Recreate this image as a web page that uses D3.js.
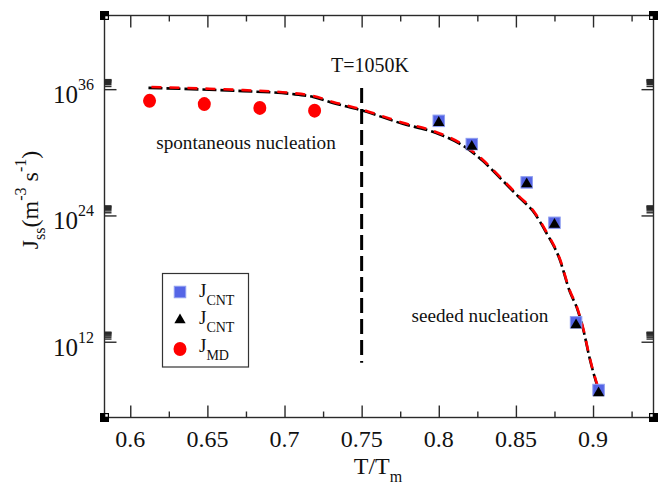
<!DOCTYPE html>
<html>
<head>
<meta charset="utf-8">
<script src="https://cdn.jsdelivr.net/npm/d3@7"></script>
<style>
  html, body { margin: 0; padding: 0; background: #fff; }
  svg { display: block; }
  text { font-family: "Liberation Serif", "DejaVu Serif", serif; fill: #111; }
</style>
</head>
<body>
<svg id="chart" width="670" height="486"></svg>
<script>
// Reduced temperature T/Tm and log10 of the steady-state nucleation rate J_ss (m^-3 s^-1)

// CNT prediction curves (two overlapping model curves)
const curveT = [0.6118, 0.6453, 0.6733, 0.7036, 0.7186, 0.7314, 0.7495, 0.7767, 0.7961, 0.8179, 0.8287,
                0.8395, 0.8524, 0.8610, 0.8697, 0.8783, 0.8848, 0.8898, 0.8939, 0.8977, 0.9031, 0.9042];
const curveLogJ = [36.22, 36.07, 35.91, 35.65, 35.36, 34.79, 34.10, 32.80, 32.04, 30.52, 29.26,
                   27.69, 25.77, 24.51, 22.45, 19.95, 16.91, 15.20, 13.11, 10.58, 7.73, 7.22];

// J_CNT points (squares and triangles) for seeded nucleation
const cntT = [0.8, 0.8214, 0.857, 0.875, 0.889, 0.9036];
const cntSquareLogJ = [32.99, 30.78, 27.14, 23.30, 13.84, 7.41];
const cntTriangleLogJ = [32.82, 30.54, 26.98, 23.14, 13.58, 7.12];

// J_MD points for spontaneous nucleation
const mdT = [0.6125, 0.648, 0.684, 0.7195];
const mdLogJ = [34.89, 34.58, 34.22, 33.96];

// Axis settings
const xDomain = [0.5833, 0.9392];
const yDomain = [6.3e4, 1e43];
const xMajorTicks = [0.6, 0.65, 0.7, 0.75, 0.8, 0.85, 0.9];
const xMinorTicks = [0.625, 0.675, 0.725, 0.775, 0.825, 0.875, 0.925];
const yMajorExponents = [12, 24, 36];
const xTickLabels = ["0.6", "0.65", "0.7", "0.75", "0.8", "0.85", "0.9"];

// Divider at T = 1050 K
const dividerT = 0.75;
const dividerJ = [1e10, 1.3e36];

const svg = d3.select("#chart");
const plotLeft = 104.5, plotRight = 653.5, plotTop = 15.5, plotBottom = 417.5;

const x = d3.scaleLinear().domain(xDomain).range([plotLeft, plotRight]);
const y = d3.scaleLog().domain(yDomain).range([plotBottom, plotTop]);

const frameColor = "#2a2a2a";

// Frame
svg.append("rect")
  .attr("x", plotLeft).attr("y", plotTop)
  .attr("width", plotRight - plotLeft).attr("height", plotBottom - plotTop)
  .attr("fill", "none").attr("stroke", frameColor).attr("stroke-width", 1.4);

// X axes (ticks pointing inward) on bottom and top
const xBottom = d3.axisTop(x).tickValues(xMajorTicks).tickSize(12).tickFormat("");
const xBottomMinor = d3.axisTop(x).tickValues(xMinorTicks).tickSize(6).tickFormat("");
const xTop = d3.axisBottom(x).tickValues(xMajorTicks).tickSize(12).tickFormat("");
const xTopMinor = d3.axisBottom(x).tickValues(xMinorTicks).tickSize(6).tickFormat("");
[[xBottom, plotBottom], [xBottomMinor, plotBottom], [xTop, plotTop], [xTopMinor, plotTop]].forEach(([ax, yy]) => {
  const g = svg.append("g").attr("transform", `translate(0,${yy})`).call(ax);
  g.select(".domain").remove();
  g.selectAll("line").attr("stroke", frameColor).attr("stroke-width", 1.4);
});

// X tick labels
svg.append("g").selectAll("text").data(xMajorTicks).join("text")
  .attr("x", d => x(d)).attr("y", 447)
  .attr("text-anchor", "middle").attr("font-size", 24)
  .text((d, i) => xTickLabels[i]);

// Y axes (log scale): major ticks every 12 decades, minor ticks at 2..9 x 10^n
const yMajor = yMajorExponents.map(e => Math.pow(10, e));
const yMinor = [];
yMajorExponents.forEach(e => { for (let k = 2; k <= 9; k++) yMinor.push(k * Math.pow(10, e)); });
const yLeft = d3.axisRight(y).tickValues(yMajor).tickSize(12).tickFormat("");
const yLeftMinor = d3.axisRight(y).tickValues(yMinor).tickSize(7).tickFormat("");
const yRight = d3.axisLeft(y).tickValues(yMajor).tickSize(12).tickFormat("");
const yRightMinor = d3.axisLeft(y).tickValues(yMinor).tickSize(7).tickFormat("");
[[yLeft, plotLeft], [yLeftMinor, plotLeft], [yRight, plotRight], [yRightMinor, plotRight]].forEach(([ax, xx]) => {
  const g = svg.append("g").attr("transform", `translate(${xx},0)`).call(ax);
  g.select(".domain").remove();
  g.selectAll("line").attr("stroke", frameColor).attr("stroke-width", 1.4);
});

// Y tick labels 10^n
const yLab = svg.append("g").selectAll("text").data(yMajorExponents).join("text")
  .attr("x", 94).attr("y", e => y(Math.pow(10, e)) + 14)
  .attr("text-anchor", "end").attr("font-size", 25);
yLab.append("tspan").text("10");
yLab.append("tspan").attr("font-size", 16).attr("dy", -13).text(e => String(e));

// Corner markers
[[plotLeft, plotTop, 1, 1], [plotRight, plotTop, -1, 1], [plotLeft, plotBottom, 1, -1], [plotRight, plotBottom, -1, -1]].forEach(([cx, cy, sx, sy]) => {
  svg.append("rect").attr("x", cx - 4.5).attr("y", cy - 4.5).attr("width", 9).attr("height", 9).attr("fill", "#000");
  svg.append("rect").attr("x", sx > 0 ? cx + 0.8 : cx - 3.3).attr("y", sy > 0 ? cy + 0.8 : cy - 3.3)
    .attr("width", 2.5).attr("height", 2.5).attr("fill", "#fff");
});

// Axis titles
svg.append("text").attr("x", 378).attr("y", 474).attr("text-anchor", "middle").attr("font-size", 24)
  .call(t => {
    t.append("tspan").text("T/T");
    t.append("tspan").attr("font-size", 16).attr("dy", 8).text("m");
  });

svg.append("text").attr("transform", "translate(38,200) rotate(-90)")
  .attr("text-anchor", "middle").attr("font-size", 24)
  .call(t => {
    t.append("tspan").text("J");
    t.append("tspan").attr("font-size", 16).attr("dy", 7).text("ss");
    t.append("tspan").attr("dy", -7).text("(m");
    t.append("tspan").attr("font-size", 16).attr("dy", -12).text("-3");
    t.append("tspan").attr("dy", 12).text(" s");
    t.append("tspan").attr("font-size", 16).attr("dy", -12).text("-1");
    t.append("tspan").attr("dy", 12).text(")");
  });

// Divider line at T = 1050 K
svg.append("line")
  .attr("x1", x(dividerT)).attr("x2", x(dividerT))
  .attr("y1", y(dividerJ[1])).attr("y2", y(dividerJ[0]))
  .attr("stroke", "#000").attr("stroke-width", 3).attr("stroke-dasharray", "15,6");

// Annotations
svg.append("text").attr("x", 370).attr("y", 72).attr("text-anchor", "middle").attr("font-size", 20).text("T=1050K");
svg.append("text").attr("x", 246).attr("y", 149).attr("text-anchor", "middle").attr("font-size", 19.2).text("spontaneous nucleation");
svg.append("text").attr("x", 480).attr("y", 322).attr("text-anchor", "middle").attr("font-size", 19.2).text("seeded nucleation");

// Model curves
const curvePts = curveT.map((t, i) => [t, Math.pow(10, curveLogJ[i])]);
const line = d3.line().x(d => x(d[0])).y(d => y(d[1])).curve(d3.curveMonotoneX);
svg.append("path").datum(curvePts).attr("d", line)
  .attr("transform", "translate(0,1)")
  .attr("fill", "none").attr("stroke", "#000").attr("stroke-width", 2.6).attr("stroke-dasharray", "14,4");
svg.append("path").datum(curvePts).attr("d", line)
  .attr("fill", "none").attr("stroke", "#ff0000").attr("stroke-width", 2.6)
  .attr("stroke-dasharray", "10,8").attr("stroke-dashoffset", -3);

// J_MD markers
svg.append("g").selectAll("ellipse").data(mdT).join("ellipse")
  .attr("cx", d => x(d)).attr("cy", (d, i) => y(Math.pow(10, mdLogJ[i])))
  .attr("rx", 6.5).attr("ry", 7).attr("fill", "#ff0000");

// J_CNT squares
const sq = 11.5;
svg.append("g").selectAll("rect").data(cntT).join("rect")
  .attr("x", d => x(d) - sq / 2).attr("y", (d, i) => y(Math.pow(10, cntSquareLogJ[i])) - sq / 2)
  .attr("width", sq).attr("height", sq)
  .attr("fill", "#5565e6").attr("stroke", "#8f9ef0").attr("stroke-width", 1);

// J_CNT triangles
const tri = d3.symbol().type(d3.symbolTriangle).size(55);
svg.append("g").selectAll("path").data(cntT).join("path")
  .attr("d", tri)
  .attr("transform", (d, i) => `translate(${x(d)},${y(Math.pow(10, cntTriangleLogJ[i]))})`)
  .attr("fill", "#000");

// Legend
const lg = svg.append("g");
lg.append("rect").attr("x", 162.5).attr("y", 273.5).attr("width", 86).attr("height", 93.5)
  .attr("fill", "#fff").attr("stroke", "#333").attr("stroke-width", 1.2);
lg.append("rect").attr("x", 180 - sq / 2).attr("y", 292 - sq / 2).attr("width", sq).attr("height", sq)
  .attr("fill", "#5565e6").attr("stroke", "#8f9ef0").attr("stroke-width", 1);
lg.append("path").attr("d", tri).attr("transform", "translate(180,320)").attr("fill", "#000");
lg.append("ellipse").attr("cx", 180).attr("cy", 349).attr("rx", 6.5).attr("ry", 7).attr("fill", "#ff0000");
[["CNT", 297], ["CNT", 324], ["MD", 352]].forEach(([sub, by]) => {
  const t = lg.append("text").attr("x", 199).attr("y", by).attr("font-size", 19);
  t.append("tspan").text("J");
  t.append("tspan").attr("font-size", 14).attr("dy", 8).text(sub);
});
</script>
</body>
</html>
